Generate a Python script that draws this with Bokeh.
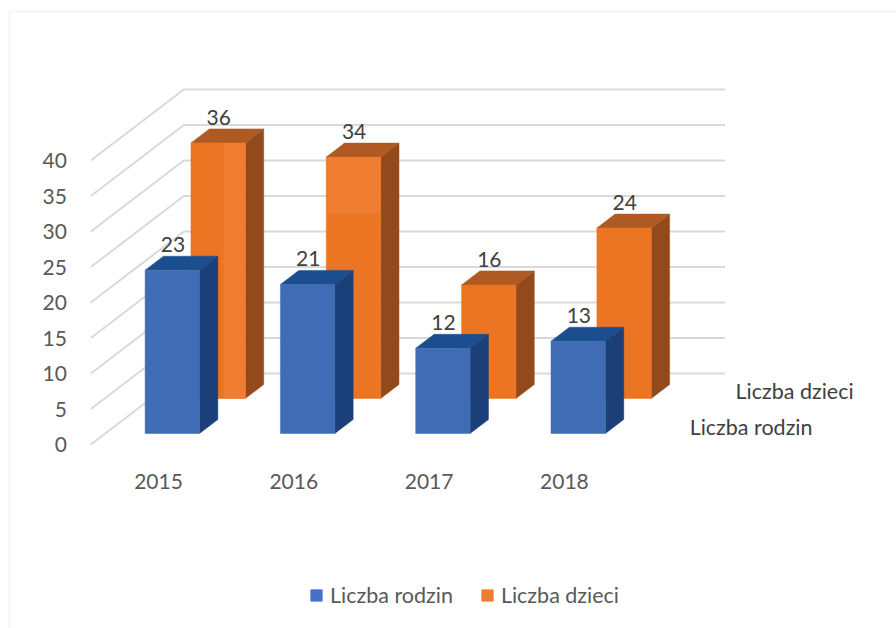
from bokeh.plotting import figure
from bokeh.models import Range1d, LinearAxis, FixedTicker, Legend, LegendItem, BoxAnnotation
from bokeh.core.properties import value
from bokeh.embed import file_html
from bokeh.resources import INLINE

years = ["2015", "2016", "2017", "2018"]
liczba_rodzin = [23, 21, 12, 13]
liczba_dzieci = [36, 34, 16, 24]
y_ticks = [0, 5, 10, 15, 20, 25, 30, 35, 40]
series_names = ["Liczba rodzin", "Liczba dzieci"]

W, H = 896, 628
PX_X, PX_Y = 135.3, 7.1          # pixels per category and per value unit
X0_T, Y0_T = 158.0, 444.0        # picture pixel of category 0 / value 0 at depth 0
DEPTH_X, DEPTH_Y = 93 / PX_X, 71 / PX_Y
HALF = 27.2 / PX_X
BAR_SHIFT = -0.6 / PX_X
ROW_D = {"rodzin": (0.155, 0.352), "dzieci": (0.648, 0.845)}
FONT = "Lato"
FS_NUM = "21px"
FS_TXT = "21.5px"

def px_x(t): return (t - X0_T) / PX_X
def px_y(t): return (Y0_T - t) / PX_Y
def proj(x, v, d): return x + d * DEPTH_X, v + d * DEPTH_Y
def poly(q): return [a for a, _ in q], [b for _, b in q]

p = figure(width=W, height=H, output_backend="svg", toolbar_location=None,
           x_range=Range1d(px_x(0), px_x(W)), y_range=Range1d(px_y(H), px_y(0)),
           x_axis_type=None, y_axis_type=None, min_border=0)
p.outline_line_color = None
p.grid.visible = False
p.background_fill_color = "white"

p.add_layout(BoxAnnotation(left=px_x(9), right=px_x(940), top=px_y(11), bottom=px_y(700),
                           fill_alpha=0, line_color="#d9d9d9", line_width=2, level="underlay"))

xs, ys = [], []
for v in y_ticks:
    a, b = poly([proj(-0.5, v, 0), proj(-0.5, v, 1), proj(3.5, v, 1)])
    xs.append(a); ys.append(b)
p.multi_line(xs, ys, line_color="#d9d9d9", line_width=2)

def bars(vals, d0, d1, front, side, top):
    fx, fy, sx, sy, tx, ty = [], [], [], [], [], []
    for i, v in enumerate(vals):
        l, r = i + BAR_SHIFT - HALF, i + BAR_SHIFT + HALF
        a, b = poly([proj(l, 0, d0), proj(r, 0, d0), proj(r, v, d0), proj(l, v, d0)])
        fx.append(a); fy.append(b)
        a, b = poly([proj(r, 0, d0), proj(r, 0, d1), proj(r, v, d1), proj(r, v, d0)])
        sx.append(a); sy.append(b)
        a, b = poly([proj(l, v, d0), proj(r, v, d0), proj(r, v, d1), proj(l, v, d1)])
        tx.append(a); ty.append(b)
    p.patches(sx, sy, fill_color=side, line_color=side, line_width=0.5)
    p.patches(tx, ty, fill_color=top, line_color=top, line_width=0.5)
    p.patches(fx, fy, fill_color=front, line_color=front, line_width=0.5)

bars(liczba_dzieci, *ROW_D["dzieci"], "#EC7524", "#924A1C", "#AF5A23")

# slightly lighter panels on two orange bars in the picture
d0 = ROW_D["dzieci"][0]
r0 = BAR_SHIFT + HALF
a1, b1 = poly([proj(0.035, 0, d0), proj(r0, 0, d0), proj(r0, liczba_dzieci[0], d0), proj(0.035, liczba_dzieci[0], d0)])
a2, b2 = poly([proj(1 - r0, 26, d0), proj(1 + r0, 26, d0), proj(1 + r0, liczba_dzieci[1], d0), proj(1 - r0, liczba_dzieci[1], d0)])
p.patches([a1, a2], [b1, b2], fill_color="#EF7D31", line_color=None)

bars(liczba_rodzin, *ROW_D["rodzin"], "#3F6CB5", "#1B3F78", "#1A4E8E")

label_rise = 25.5 / PX_Y
for vals, key in ((liczba_dzieci, "dzieci"), (liczba_rodzin, "rodzin")):
    d0 = ROW_D[key][0]
    lx = [proj(i, v + label_rise, d0)[0] for i, v in enumerate(vals)]
    ly = [proj(i, v + label_rise, d0)[1] for i, v in enumerate(vals)]
    p.text(lx, ly, text=[str(v) for v in vals], text_font=value(FONT), text_font_size=FS_NUM,
           text_color="#404040", text_align="center", text_baseline="middle")

for name, key in zip(series_names, ("rodzin", "dzieci")):
    d = sum(ROW_D[key]) / 2
    a, b = proj(3.5, 0, d)
    p.text([a], [b], text=[name], text_font=value(FONT), text_font_size=FS_TXT, text_color="#404040",
           text_align="left", text_baseline="middle", x_offset=34)

yax = LinearAxis(ticker=FixedTicker(ticks=y_ticks), fixed_location=-0.5)
yax.axis_line_color = None
yax.major_tick_line_color = None
yax.minor_tick_line_color = None
yax.major_label_standoff = 18
yax.major_label_text_font = FONT
yax.major_label_text_font_size = FS_NUM
yax.major_label_text_color = "#595959"
p.add_layout(yax, "left")

xax = LinearAxis(ticker=FixedTicker(ticks=list(range(len(years)))), fixed_location=px_y(465),
                 major_label_overrides={i: y for i, y in enumerate(years)})
xax.axis_line_color = None
xax.major_tick_line_color = None
xax.minor_tick_line_color = None
xax.major_label_standoff = 2
xax.major_label_text_font = FONT
xax.major_label_text_font_size = FS_NUM
xax.major_label_text_color = "#595959"
p.add_layout(xax, "below")

nan = float("nan")
r1 = p.quad(left=[nan], right=[nan], top=[nan], bottom=[nan], fill_color="#4472C4", line_color="#4472C4")
r2 = p.quad(left=[nan], right=[nan], top=[nan], bottom=[nan], fill_color="#ED7D31", line_color="#ED7D31")
leg = Legend(items=[LegendItem(label=series_names[0], renderers=[r1]),
                    LegendItem(label=series_names[1], renderers=[r2])],
             orientation="horizontal", location=(309, 20), padding=0, margin=0, spacing=27,
             glyph_width=14, glyph_height=14, label_standoff=7,
             background_fill_alpha=0, border_line_color=None,
             label_text_font=FONT, label_text_font_size=FS_TXT, label_text_color="#595959")
p.add_layout(leg, "center")

open("out.html", "w").write(file_html(p, INLINE))
